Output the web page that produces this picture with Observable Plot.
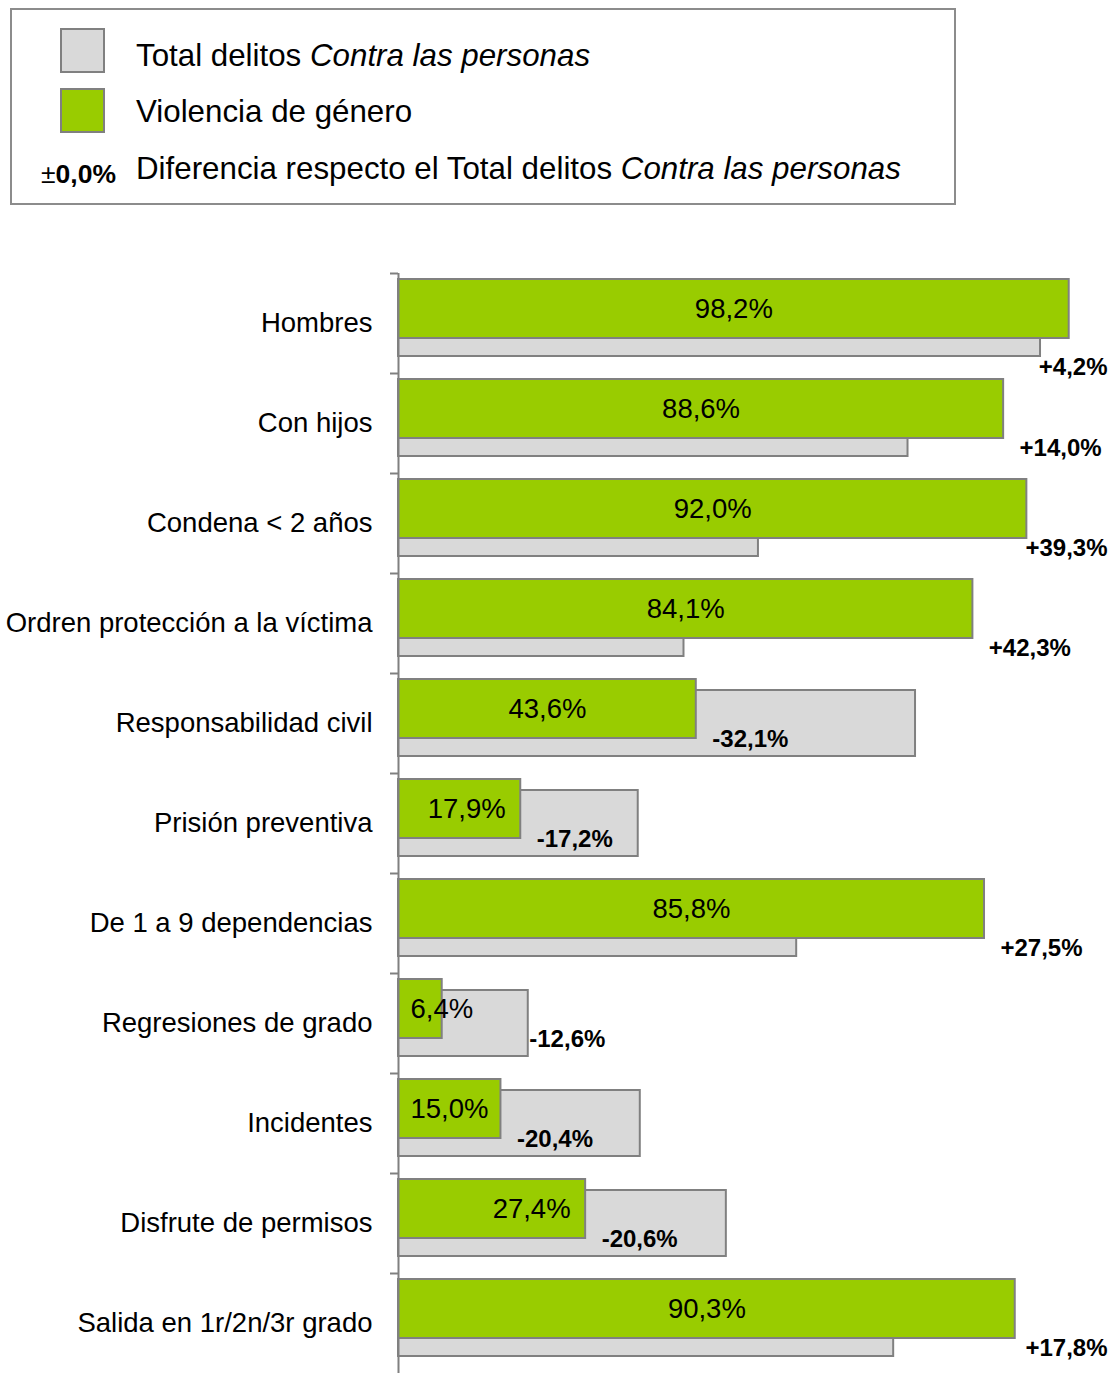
<!DOCTYPE html>
<html>
<head>
<meta charset="utf-8">
<script src="https://cdn.jsdelivr.net/npm/d3@7"></script>
<script src="https://cdn.jsdelivr.net/npm/@observablehq/plot@0.6"></script>
<style>
  html, body { margin: 0; padding: 0; background: #fff; overflow: hidden; }
  body { width: 1118px; height: 1373px; position: relative; font-family: "Liberation Sans", Arial, sans-serif; color: #000; }
  .legend { position: absolute; left: 10px; top: 8px; width: 946px; height: 197px; border: 2px solid #8c8c8c; box-sizing: border-box; }
  .sw { position: absolute; left: 48px; width: 45px; height: 45px; border: 2px solid #808080; box-sizing: border-box; }
  .lt { position: absolute; left: 124px; font-size: 31.3px; line-height: 36px; white-space: nowrap; transform: translateY(-50%); }
  .pm { position: absolute; right: 838px; font-size: 26.5px; line-height: 30px; white-space: nowrap; transform: translateY(-50%); }
  #chart { position: absolute; left: 0; top: 220px; }
</style>
</head>
<body>
<div class="legend">
  <div class="sw" style="top:18px;background:#D9D9D9"></div>
  <div class="lt" style="top:46px">Total delitos <i>Contra las personas</i></div>
  <div class="sw" style="top:78px;background:#99CC00"></div>
  <div class="lt" style="top:102px">Violencia de género</div>
  <div class="pm" style="top:164px">±<b>0,0%</b></div>
  <div class="lt" style="top:159px">Diferencia respecto el Total delitos <i>Contra las personas</i></div>
</div>
<div id="chart"></div>
<script>
// ---- data ----
const categories = [
  "Hombres",
  "Con hijos",
  "Condena < 2 años",
  "Ordren protección a la víctima",
  "Responsabilidad civil",
  "Prisión preventiva",
  "De 1 a 9 dependencias",
  "Regresiones de grado",
  "Incidentes",
  "Disfrute de permisos",
  "Salida en 1r/2n/3r grado"
];
const violencia = [98.2, 88.6, 92.0, 84.1, 43.6, 17.9, 85.8, 6.4, 15.0, 27.4, 90.3];
const diferencia = [4.2, 14.0, 39.3, 42.3, -32.1, -17.2, 27.5, -12.6, -20.4, -20.6, 17.8];

const data = categories.map((cat, i) => ({
  cat,
  v: violencia[i],
  diff: diferencia[i],
  total: +(violencia[i] - diferencia[i]).toFixed(1)
}));

const W = 1118, ML = 398, MR = 37;
const pxu = (W - ML - MR) / 100; // pixels per percentage unit
const fmt = x => x.toFixed(1).replace(".", ",");
const xMaxLabel = (1107 - ML) / pxu;

// value labels: centred in wide bars, near the inner end of short bars
const wide = data.filter(d => d.v >= 30);
const narrow = data.filter(d => d.v < 30);

// positive difference labels: right of the green bar, clamped to the right edge;
// pushed below the grey bar if they would overlap it
const pos = data.filter(d => d.diff >= 0).map(d => {
  const xEnd = Math.min(d.v + 98 / pxu, xMaxLabel);
  const xStart = xEnd - 70 / pxu;
  return { ...d, xEnd, low: xStart <= d.total + 2 / pxu };
});
const posHigh = pos.filter(d => !d.low);
const posLow = pos.filter(d => d.low);
const neg = data.filter(d => d.diff < 0);

const chart = Plot.plot({
  width: W,
  height: 1153,
  marginTop: 53,
  marginBottom: 0,
  marginLeft: ML,
  marginRight: MR,
  style: { fontFamily: "'Liberation Sans', Arial, sans-serif", background: "transparent", overflow: "visible" },
  x: { domain: [0, 100], axis: null },
  y: { domain: categories, padding: 0 },
  marks: [
    Plot.barX(data, { x: "total", y: "cat", fill: "#D9D9D9", stroke: "#808080", strokeWidth: 2, insetTop: 17, insetBottom: 17 }),
    Plot.barX(data, { x: "v", y: "cat", fill: "#99CC00", stroke: "#808080", strokeWidth: 2, insetTop: 6, insetBottom: 35 }),
    Plot.ruleX([0], { stroke: "#808080", strokeWidth: 2 }),
    Plot.axisY({ tickSize: 8, tickFormat: () => "", label: null, dy: -50, stroke: "#808080", strokeWidth: 2, strokeOpacity: 1 }),
    Plot.axisY({ tickSize: 0, tickPadding: 26, fontSize: 27.5, fill: "#000", label: null }),
    Plot.text(wide, {
      x: d => d.v / 2, y: "cat", dy: -14,
      text: d => fmt(d.v) + "%", fontSize: 27.5, fill: "#000"
    }),
    Plot.text(narrow, {
      x: d => Math.max(12 / pxu, d.v - 93 / pxu), y: "cat", dy: -14, textAnchor: "start",
      text: d => fmt(d.v) + "%", fontSize: 27.5, fill: "#000"
    }),
    Plot.text(posHigh, {
      x: "xEnd", y: "cat", dy: 25,
      text: d => "+" + fmt(d.diff) + "%", fontSize: 24, fontWeight: "bold", textAnchor: "end", fill: "#000"
    }),
    Plot.text(posLow, {
      x: "xEnd", y: "cat", dy: 44,
      text: d => "+" + fmt(d.diff) + "%", fontSize: 24, fontWeight: "bold", textAnchor: "end", fill: "#000"
    }),
    Plot.text(neg, {
      x: d => d.v < 10 ? d.total + 1 / pxu : d.v + 16 / pxu, y: "cat", dy: 16,
      text: d => "-" + fmt(-d.diff) + "%", fontSize: 24, fontWeight: "bold", textAnchor: "start", fill: "#000"
    })
  ]
});
document.getElementById("chart").appendChild(chart);
</script>
</body>
</html>
